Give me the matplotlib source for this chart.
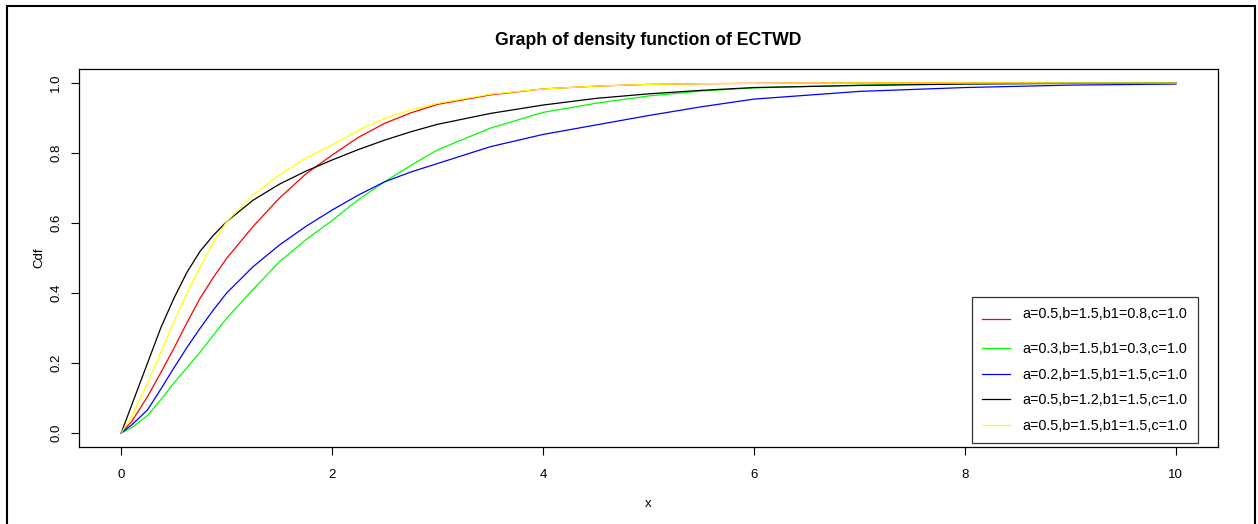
import numpy as np
import matplotlib.pyplot as plt
from matplotlib.patches import Rectangle

plt.rcParams['font.family'] = ['Liberation Sans', 'DejaVu Sans']

# values
x = [0, 0.1, 0.25, 0.375, 0.5, 0.625, 0.75, 0.875, 1, 1.25, 1.5, 1.75, 2,
     2.25, 2.5, 2.75, 3, 3.5, 4, 4.5, 5, 5.5, 6, 7, 8, 9, 10]

cdf_red = [0, 0.033, 0.104, 0.172, 0.242, 0.316, 0.386, 0.445, 0.499, 0.59,
           0.671, 0.74, 0.794, 0.845, 0.885, 0.915, 0.939, 0.966, 0.983, 0.991,
           0.996, 0.998, 0.999, 1.0, 1.0, 1.0, 1.0]
cdf_green = [0, 0.015, 0.05, 0.095, 0.143, 0.187, 0.232, 0.28, 0.328, 0.41,
             0.489, 0.552, 0.607, 0.667, 0.718, 0.765, 0.809, 0.871, 0.916, 0.942,
             0.963, 0.977, 0.986, 0.994, 0.998, 0.999, 1.0]
cdf_blue = [0, 0.023, 0.066, 0.125, 0.186, 0.245, 0.30, 0.352, 0.40, 0.475,
            0.537, 0.59, 0.637, 0.68, 0.718, 0.746, 0.770, 0.818, 0.853, 0.880,
            0.907, 0.932, 0.954, 0.976, 0.987, 0.994, 0.997]
cdf_black = [0, 0.08, 0.2, 0.30, 0.385, 0.46, 0.52, 0.565, 0.604, 0.665,
             0.711, 0.748, 0.780, 0.81, 0.837, 0.861, 0.882, 0.913, 0.937, 0.956,
             0.969, 0.979, 0.987, 0.993, 0.997, 0.999, 1.0]
cdf_yellow = [0, 0.047, 0.142, 0.23, 0.318, 0.40, 0.475, 0.545, 0.604, 0.68,
              0.737, 0.785, 0.823, 0.865, 0.899, 0.923, 0.942, 0.968, 0.983, 0.991,
              0.996, 0.998, 0.999, 1.0, 1.0, 1.0, 1.0]

labels = ["a=0.5,b=1.5,b1=0.8,c=1.0", "a=0.3,b=1.5,b1=0.3,c=1.0",
          "a=0.2,b=1.5,b1=1.5,c=1.0", "a=0.5,b=1.2,b1=1.5,c=1.0",
          "a=0.5,b=1.5,b1=1.5,c=1.0"]
colors = ["#FF0000", "#00FF00", "#0000FF", "black", "#FFFF00"]
series = [cdf_red, cdf_green, cdf_blue, cdf_black, cdf_yellow]

fig = plt.figure(figsize=(12.58, 5.24), dpi=100)
ax = fig.add_axes([79/1258, 1 - 447/524, (1218 - 79)/1258, (447 - 69)/524])

handles = []
for y, c in zip(series, colors):
    h, = ax.plot(x, y, color=c, lw=0.9)
    handles.append(h)

ax.set_xlim(-0.4, 10.4)
ax.set_ylim(-0.04, 1.04)
ax.set_xticks([0, 2, 4, 6, 8, 10])
ax.set_yticks([0.0, 0.2, 0.4, 0.6, 0.8, 1.0])
ax.set_yticklabels(["0.0", "0.2", "0.4", "0.6", "0.8", "1.0"], rotation=90, va='center')
ax.tick_params(direction='out', length=6, width=0.8, labelsize=9.5)
ax.tick_params(axis='x', pad=10)
ax.tick_params(axis='y', pad=6)
for s in ax.spines.values():
    s.set_linewidth(0.9)

ax.set_title("Graph of density function of ECTWD", fontsize=12.7, fontweight='bold', pad=17)
ax.set_xlabel("x", fontsize=9.5, labelpad=12)
ax.set_ylabel("Cdf", fontsize=9.5, labelpad=3.5)

leg_labels = [labels[0] + "\n"] + labels[1:]
leg = fig.legend(handles, leg_labels, loc='upper left',
                 bbox_to_anchor=(972/1258, 1 - 297/524), borderaxespad=0,
                 fontsize=10.4, frameon=True, fancybox=False, edgecolor='black',
                 handlelength=1.9, handletextpad=0.9, labelspacing=0.8,
                 borderpad=0.7)
leg.get_frame().set_linewidth(0.9)
leg.get_texts()[0].set_linespacing(0.6)

# outer frame around the figure
fig.patches.append(Rectangle((7/1258, -0.02), (1255 - 7)/1258, 1.02 - 6/524,
                             transform=fig.transFigure, fill=False,
                             edgecolor='black', lw=1.5))

fig.savefig("out.png", dpi=100)
